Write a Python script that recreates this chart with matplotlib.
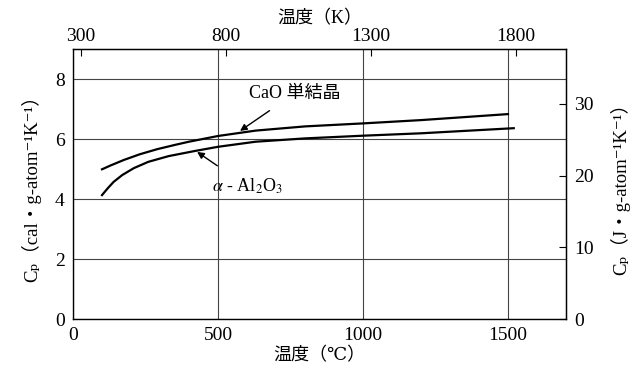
import matplotlib
matplotlib.use("Agg")
import matplotlib.pyplot as plt

plt.rcParams['font.family'] = ['Liberation Serif', 'DejaVu Serif', 'Noto Sans CJK JP', 'DejaVu Sans']
plt.rcParams['mathtext.fontset'] = 'stix'

# データ (温度 ℃, Cp cal/g-atom/K)
t_cao = [100, 130, 175, 230, 290, 350, 400, 500, 630, 800, 1000, 1200, 1350, 1500]
cp_cao = [4.99, 5.12, 5.30, 5.49, 5.66, 5.80, 5.91, 6.10, 6.28, 6.42, 6.52, 6.63, 6.73, 6.83]
t_al = [100, 120, 140, 170, 210, 260, 330, 420, 500, 630, 800, 1000, 1200, 1350, 1520]
cp_al = [4.13, 4.36, 4.57, 4.80, 5.03, 5.24, 5.43, 5.60, 5.74, 5.91, 6.02, 6.11, 6.19, 6.27, 6.36]

x_ticks = [0, 500, 1000, 1500]
y_ticks = [0, 2, 4, 6, 8]
k_ticks = [300, 800, 1300, 1800]
j_ticks = [0, 10, 20, 30]

fig = plt.figure(figsize=(6.41, 3.69), dpi=100)
ax = fig.add_axes([0.1139, 0.1355, 0.769, 0.7317])

ax.plot(t_cao, cp_cao, color='k', lw=1.6)
ax.plot(t_al, cp_al, color='k', lw=1.6)

ax.set_xlim(0, 1700)
ax.set_ylim(0, 9)
ax.set_xticks(x_ticks)
ax.set_yticks(y_ticks)
ax.grid(True, color='#444444', lw=0.8)
ax.tick_params(length=0, labelsize=14, pad=6)
for s in ax.spines.values():
    s.set_linewidth(1.0)

ax.set_xlabel('温度（℃）', fontsize=13, labelpad=2)
ax.set_ylabel('Cₚ（cal・g-atom⁻¹K⁻¹）', fontsize=13.5, labelpad=10)

# 上軸 (K)
top = ax.secondary_xaxis('top', functions=(lambda c: c + 273, lambda k: k - 273))
top.set_xticks(k_ticks)
top.tick_params(direction='in', length=5, labelsize=14, pad=3)
top.set_xlabel('温度（K）', fontsize=13, labelpad=3)

# 右軸 (J)
right = ax.secondary_yaxis('right', functions=(lambda c: c * 4.184, lambda j: j / 4.184))
right.set_yticks(j_ticks)
right.tick_params(direction='in', length=5, labelsize=14, pad=6)
right.set_ylabel('Cₚ（J・g-atom⁻¹K⁻¹）', fontsize=13.5, labelpad=12)

ax.annotate('CaO 単結晶', xy=(576, 6.27), xytext=(766, 7.53), fontsize=13,
            ha='center', va='center',
            arrowprops=dict(arrowstyle='-|>', color='k', lw=1, mutation_scale=10,
                            shrinkA=8, shrinkB=0))
ax.annotate(r'$\alpha$ - Al$_2$O$_3$', xy=(428, 5.57), xytext=(600, 4.43), fontsize=13,
            ha='center', va='center',
            arrowprops=dict(arrowstyle='-|>', color='k', lw=1, mutation_scale=10,
                            shrinkA=10, shrinkB=0))

fig.savefig('out.png', dpi=100)
